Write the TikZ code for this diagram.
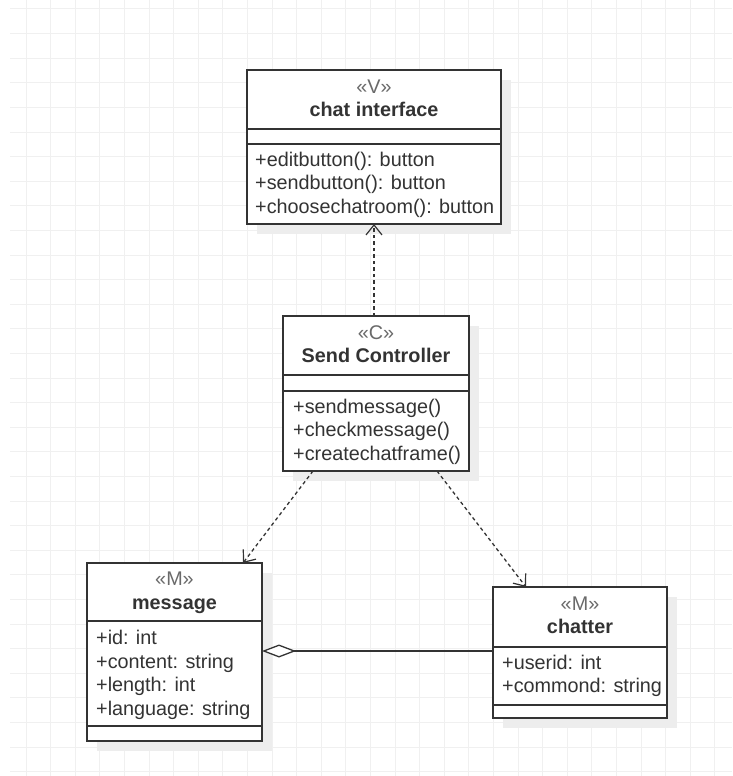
\documentclass[tikz,border=0pt]{standalone}
\usepackage{fontspec}
\setmainfont{Liberation Sans}
\usetikzlibrary{arrows.meta,calc}
\definecolor{gridc}{HTML}{F0F0F0}
\definecolor{shadowc}{HTML}{EDEDED}
\definecolor{linec}{HTML}{333333}
\definecolor{textc}{HTML}{333333}
\definecolor{stereoc}{HTML}{6A6A6A}
\begin{document}
\begin{tikzpicture}[x=1pt,y=-1pt,
  classbox/.style={draw=linec, line width=1.5pt, fill=white, inner sep=0pt, outer sep=0pt},
  divider/.style={draw=linec, line width=1.5pt},
  txt/.style={text=textc, font=\fontsize{19.8pt}{23.5pt}\selectfont, inner sep=0pt, anchor=base west},
  ttl/.style={text=textc, font=\fontsize{19.8pt}{23.5pt}\selectfont\bfseries, inner sep=0pt, anchor=base},
  ster/.style={text=stereoc, font=\fontsize{19.8pt}{23.5pt}\selectfont, inner sep=0pt, anchor=base},
  dep/.style={draw=linec, line width=1.3pt, dash pattern=on 3.5pt off 3pt, -{Straight Barb[length=10pt,width=16pt,line width=1.2pt]}},
  agg/.style={draw=linec, line width=1.4pt, -{Diamond[length=34pt,width=13pt,fill=white,line width=1.3pt]}},
  gridline/.style={draw=gridc, line width=1pt}
]
\useasboundingbox (0,0) rectangle (732,776);
\fill[white] (0,0) rectangle (732,776);
% grid
\foreach \i in {0,...,28} \draw[gridline] ({26+24.6*\i},0) -- ({26+24.6*\i},776);
\foreach \j in {0,...,31} \draw[gridline] (10,{9+24.6*\j}) -- (732,{9+24.6*\j});

% shadows
\fill[shadowc] (257,80) rectangle (511,234);
\fill[shadowc] (293,326) rectangle (479,481);
\fill[shadowc] (97,573) rectangle (272,751);
\fill[shadowc] (503,597) rectangle (677,728);

% chat interface
\node[classbox, minimum width=254pt, minimum height=154pt] (ci) at (374,147) {};
\node[ster] (ciS) at (374,93.5) {«V»};
\node[ttl] (ciT) at (374,116.5) {chat interface};
\draw[divider] (ci.west |- 0,129) -- (ci.east |- 0,129);
\draw[divider] (ci.west |- 0,144) -- (ci.east |- 0,144);
\node[txt] (ciA) at (255,166) {+editbutton(): button};
\node[txt] (ciB) at (255,189.5) {+sendbutton(): button};
\node[txt] (ciC) at (255,213) {+choosechatroom(): button};

% send controller
\node[classbox, minimum width=186pt, minimum height=155pt] (sc) at (376,393.5) {};
\node[ster] (scS) at (376,339) {«C»};
\node[ttl] (scT) at (376,362.5) {Send Controller};
\draw[divider] (sc.west |- 0,375) -- (sc.east |- 0,375);
\draw[divider] (sc.west |- 0,391) -- (sc.east |- 0,391);
\node[txt] (scA) at (293,413) {+sendmessage()};
\node[txt] (scB) at (293,436.5) {+checkmessage()};
\node[txt] (scC) at (293,460) {+createchatframe()};

% message
\node[classbox, minimum width=175pt, minimum height=178pt] (msg) at (174.5,652) {};
\node[ster] (msgS) at (174.5,585.5) {«M»};
\node[ttl] (msgT) at (174.5,609) {message};
\draw[divider] (msg.west |- 0,621) -- (msg.east |- 0,621);
\draw[divider] (msg.west |- 0,726) -- (msg.east |- 0,726);
\node[txt] (msgA) at (96,644.5) {+id: int};
\node[txt] (msgB) at (96,668) {+content: string};
\node[txt] (msgC) at (96,691.5) {+length: int};
\node[txt] (msgD) at (96,715) {+language: string};

% chatter
\node[classbox, minimum width=174pt, minimum height=131pt] (ch) at (580,652.5) {};
\node[ster] (chS) at (580,610) {«M»};
\node[ttl] (chT) at (580,633.5) {chatter};
\draw[divider] (ch.west |- 0,647) -- (ch.east |- 0,647);
\draw[divider] (ch.west |- 0,705) -- (ch.east |- 0,705);
\node[txt] (chA) at (502,669) {+userid: int};
\node[txt] (chB) at (502,692.5) {+commond: string};

% connectors
\draw[dep] (sc.north -| ci.south) -- (ci.south);
\draw[dep] ($(sc.south west)+(30,0)$) -- ($(msg.north east)+(-19,0)$);
\draw[dep] ($(sc.south east)+(-32,0)$) -- ($(ch.north west)+(33,0)$);
\coordinate (aggy) at (0,651);
\draw[agg] (ch.west |- aggy) -- (msg.east |- aggy);
\end{tikzpicture}
\end{document}
